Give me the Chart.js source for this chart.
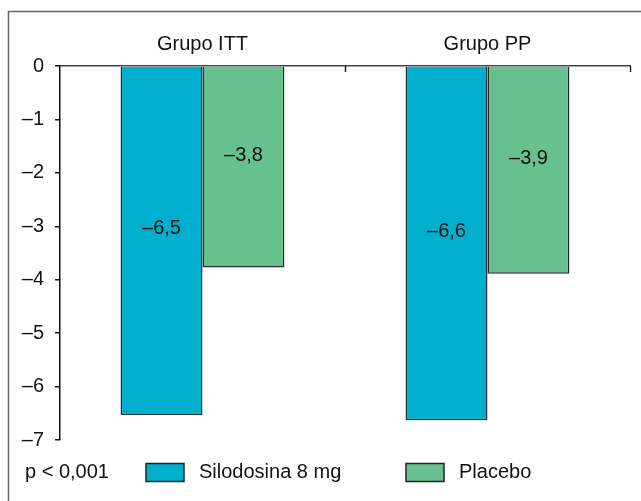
<!DOCTYPE html>
<html>
<head>
<meta charset="utf-8">
<script src="https://cdn.jsdelivr.net/npm/chart.js@4"></script>
<style>
  html, body { margin: 0; padding: 0; background: #fff; }
  #wrap { width: 641px; height: 501px; position: relative; }
</style>
</head>
<body>
<div id="wrap"><canvas id="chart"></canvas></div>
<script>
// values
var groups = ['Grupo ITT', 'Grupo PP'];
var silodosina = [-6.53, -6.63];
var placebo = [-3.77, -3.89];
var silodosinaText = ['\u20136,5', '\u20136,6'];
var placeboText = ['\u20133,8', '\u20133,9'];
var seriesNames = ['Silodosina 8 mg', 'Placebo'];
var pValue = 'p < 0,001';

var FONT = '"Liberation Sans", Arial, sans-serif';
var FSIZE = 20;

var framePlugin = {
    id: 'frame',
    beforeDraw: function (chart) {
        var ctx = chart.ctx;
        ctx.save();
        ctx.strokeStyle = '#666';
        ctx.lineWidth = 1.5;
        ctx.strokeRect(8.5, 11.5, 700, 600);
        ctx.restore();
    },
    afterDraw: function (chart) {
        var ctx = chart.ctx;
        var x = chart.scales.x;
        var area = chart.chartArea;
        ctx.save();
        // small tick marks hanging from the top axis
        ctx.strokeStyle = '#222';
        ctx.lineWidth = 1.5;
        var mid = (x.getPixelForValue(0) + x.getPixelForValue(1)) / 2;
        [mid, area.right].forEach(function (px) {
            ctx.beginPath();
            ctx.moveTo(Math.round(px) + 0.5, area.top);
            ctx.lineTo(Math.round(px) + 0.5, area.top + 6);
            ctx.stroke();
        });

        // bar value labels
        var texts = [silodosinaText, placeboText];
        ctx.fillStyle = '#111';
        ctx.font = FSIZE + 'px ' + FONT;
        ctx.textAlign = 'center';
        ctx.textBaseline = 'middle';
        chart.data.datasets.forEach(function (ds, di) {
            chart.getDatasetMeta(di).data.forEach(function (bar, i) {
                var cy = (bar.y + bar.base) / 2 - 12;
                ctx.fillText(texts[di][i], bar.x, cy);
            });
        });

        // legend row with p value
        ctx.textAlign = 'left';
        ctx.fillText(pValue, 25, 472);
        var boxes = [146, 406];
        chart.data.datasets.forEach(function (ds, di) {
            ctx.fillStyle = ds.backgroundColor;
            ctx.fillRect(boxes[di], 463.5, 38, 18);
            ctx.strokeStyle = '#222';
            ctx.lineWidth = 1.5;
            ctx.strokeRect(boxes[di], 463.5, 38, 18);
            ctx.fillStyle = '#111';
            ctx.fillText(ds.label, boxes[di] + 53, 472);
        });
        ctx.restore();
    }
};

new Chart(document.getElementById('chart').getContext('2d'), {
    type: 'bar',
    data: {
        labels: groups,
        datasets: [{
            label: seriesNames[0],
            data: silodosina,
            backgroundColor: '#00AECD',
            borderColor: '#1f2e2e',
            borderWidth: 1.5,
            borderSkipped: 'start'
        }, {
            label: seriesNames[1],
            data: placebo,
            backgroundColor: '#67C18E',
            borderColor: '#1f2e2e',
            borderWidth: 1.5,
            borderSkipped: 'start'
        }]
    },
    options: {
        responsive: true,
        maintainAspectRatio: false,
        animation: false,
        layout: { padding: { top: 0, right: 11, bottom: 61, left: 0 } },
        categoryPercentage: 0.575,
        barPercentage: 1,
        plugins: {
            legend: { display: false },
            tooltip: { enabled: false }
        },
        scales: {
            x: {
                position: 'top',
                grid: { display: false, drawTicks: false },
                border: { display: true, color: '#444', width: 1.5 },
                ticks: { color: '#111', font: { family: FONT, size: FSIZE }, padding: 10 },
                afterFit: function (scale) { scale.height = 66; }
            },
            y: {
                min: -7,
                max: 0,
                grid: { drawOnChartArea: false, tickLength: 5, color: '#111', lineWidth: 1.5 },
                border: { display: true, color: '#111', width: 1.5 },
                ticks: {
                    stepSize: 1,
                    color: '#111',
                    padding: 11,
                    font: { family: FONT, size: FSIZE },
                    callback: function (v) { return v < 0 ? '\u2013' + Math.abs(v) : String(v); }
                },
                afterFit: function (scale) { scale.width = 60; }
            }
        }
    },
    plugins: [framePlugin]
});
</script>
</body>
</html>
